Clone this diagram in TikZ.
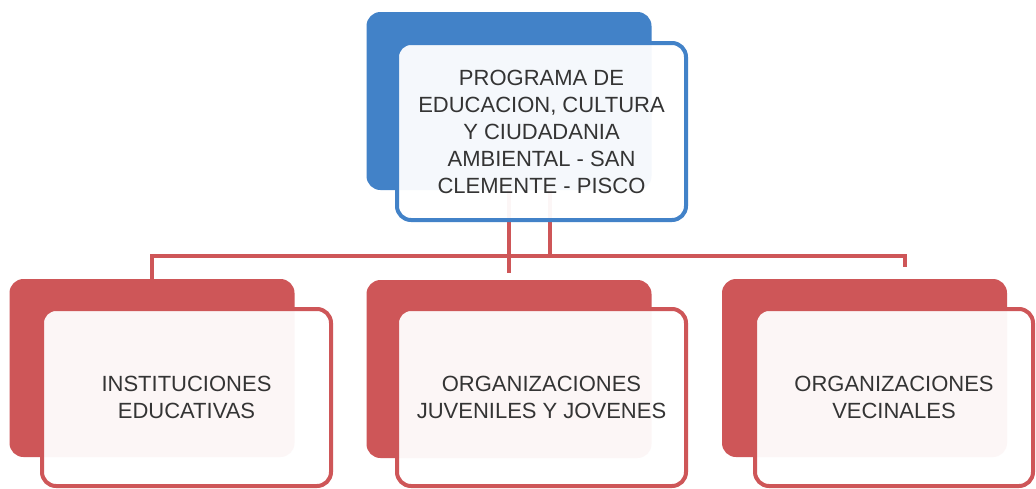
\documentclass[tikz,border=0pt]{standalone}
\usepackage{fontspec}
\setmainfont{Liberation Sans}
\usepackage{xcolor}
\definecolor{progblue}{RGB}{66,130,200}
\definecolor{grpred}{RGB}{206,86,88}
\definecolor{txtgray}{RGB}{52,52,52}

\begin{document}
\begin{tikzpicture}[x=1pt, y=-1pt,
    back/.style={fill=#1, rounded corners=14pt, minimum width=285pt, minimum height=178pt, inner sep=0pt},
    front/.style={draw=#1, line width=4pt, fill=white, fill opacity=0.95, text opacity=1,
        rounded corners=14pt, minimum width=289pt, minimum height=177pt, inner sep=0pt,
        align=center, text=txtgray, font=\fontsize{22}{27}\selectfont},
    link/.style={draw=grpred, line width=4.5pt}]
    \useasboundingbox[fill=white] (0,0) rectangle (1036,488);

    % Back boxes
    \node[back=progblue] (topback) at (509,101) {};
    \node[back=grpred] (leftback) at (152,368) {};
    \node[back=grpred] (midback) at (509,369) {};
    \node[back=grpred] (rightback) at (864.5,368) {};

    % Connectors
    \coordinate (busL) at (152,256);
    \coordinate (busR) at (905,256);
    \coordinate (bus2) at (550,256);
    \coordinate (dropR) at (905,273);
    \draw[link, shorten >=7pt] (topback.south) -- (midback.north);
    \draw[link] (topback.south -| bus2) -- (bus2);
    \draw[link, shorten >=6pt] (leftback.north) -- (busL) -- (busR) -- (dropR);

    % Program
    \node[front=progblue] (top) at (541.5,131.5)
        {PROGRAMA DE\\EDUCACION, CULTURA\\Y CIUDADANIA\\AMBIENTAL - SAN\\CLEMENTE - PISCO};

    % Groups
    \node[front=grpred] (left) at (186.5,397.5) {INSTITUCIONES\\EDUCATIVAS};
    \node[front=grpred] (mid) at (541.5,397.5) {ORGANIZACIONES\\JUVENILES Y JOVENES};
    \node[front=grpred, minimum width=278pt] (right) at (894,397.5) {ORGANIZACIONES\\VECINALES};
\end{tikzpicture}
\end{document}
